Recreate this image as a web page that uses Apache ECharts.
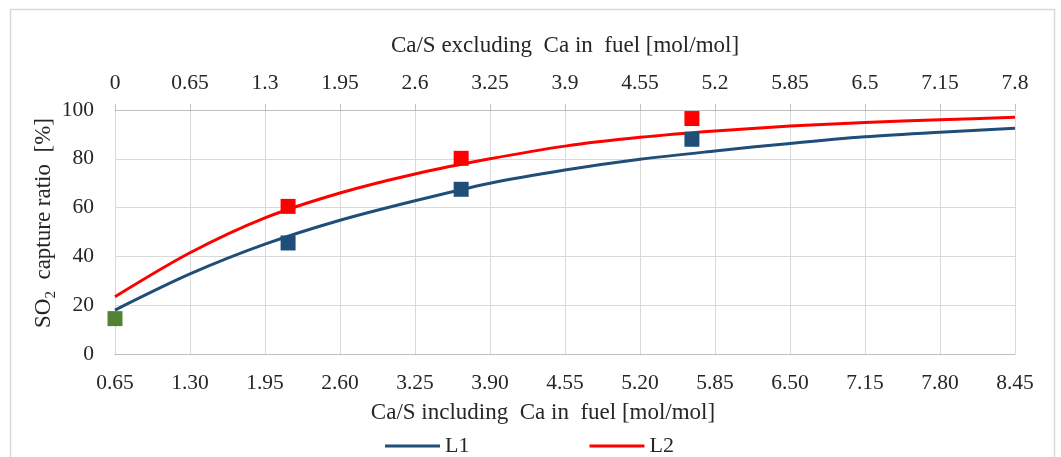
<!DOCTYPE html>
<html>
<head>
<meta charset="utf-8">
<script src="https://cdn.jsdelivr.net/npm/echarts@6/dist/echarts.min.js"></script>
<style>
html,body{margin:0;padding:0;background:#fff;}
#chart{width:1061px;height:457px;}
</style>
</head>
<body>
<div id="chart"></div>
<script>
// Bottom axis: Ca/S including Ca in fuel; top axis: Ca/S excluding Ca in fuel
const xCurve = [0.65, 1.30, 1.95, 2.60, 3.25, 3.90, 4.55, 5.20, 5.85, 6.50, 7.15, 7.80, 8.45];
const l1Curve = [18.0, 32.8, 45.0, 54.8, 62.8, 70.0, 75.4, 79.8, 83.2, 86.3, 89.0, 90.9, 92.5];
const l2Curve = [23.5, 41.5, 55.8, 66.0, 73.8, 80.0, 85.2, 88.8, 91.4, 93.4, 94.9, 96.0, 97.0];
const markerX = [2.15, 3.65, 5.65];
const l1Markers = [45.5, 67.5, 88.0];
const l2Markers = [60.5, 80.2, 96.5];
const baseX = [0.65];
const baseY = [14.5];
const seriesNames = ['L1', 'L2'];
const bottomTitle = 'Ca/S including  Ca in  fuel [mol/mol]';
const topTitle = 'Ca/S excluding  Ca in  fuel [mol/mol]';

const FONT = 'Liberation Serif';
const TXT = '#262626';
const GRID = '#d9d9d9';
const BLUE = '#1f4e79';
const RED = '#ff0000';
const GREEN = '#548235';
const TICK_FS = 21.5;
const TITLE_FS = 23;

const zip = (xs, ys) => xs.map((x, i) => [x, ys[i]]);

const chart = echarts.init(document.getElementById('chart'), null, {renderer: 'canvas'});
chart.setOption({
  backgroundColor: '#ffffff',
  animation: false,
  graphic: [{
    type: 'rect', left: 8, top: 7, silent: true,
    shape: {width: 1044, height: 470},
    style: {fill: 'none', stroke: '#d9d9d9', lineWidth: 1.5}
  }],
  grid: {left: 115, right: 46, top: 110, bottom: 103},
  legend: {
    data: seriesNames,
    icon: 'rect',
    left: 380, top: 430,
    itemWidth: 55, itemHeight: 3, itemGap: 120,
    textStyle: {fontFamily: FONT, fontSize: 22, color: TXT}
  },
  xAxis: [{
    type: 'value', position: 'bottom',
    min: 0.65, max: 8.45, interval: 0.65,
    name: bottomTitle, nameLocation: 'middle', nameGap: 47, nameMoveOverlap: false,
    nameTextStyle: {fontFamily: FONT, fontSize: TITLE_FS, color: TXT, padding: [0, 44, 0, 0]},
    axisLine: {show: true, lineStyle: {color: '#bfbfbf', width: 1}},
    axisTick: {show: false},
    axisLabel: {fontFamily: FONT, fontSize: TICK_FS, color: TXT, margin: 18, formatter: v => v.toFixed(2)},
    splitLine: {show: true, lineStyle: {color: GRID, width: 1}}
  }, {
    type: 'value', position: 'top',
    min: 0, max: 7.8, interval: 0.65,
    name: topTitle, nameLocation: 'middle', nameGap: 53, nameMoveOverlap: false,
    nameTextStyle: {fontFamily: FONT, fontSize: TITLE_FS, color: TXT},
    axisLine: {show: true, lineStyle: {color: '#bfbfbf', width: 1}},
    axisTick: {show: true, inside: false, length: 6, lineStyle: {color: '#bfbfbf'}},
    axisLabel: {fontFamily: FONT, fontSize: TICK_FS, color: TXT, margin: 16,
      formatter: v => String(Math.round(v * 100) / 100)},
    splitLine: {show: false}
  }],
  yAxis: {
    type: 'value', min: 0, max: 100, interval: 20,
    name: '{a|SO}{s|2}{a|  capture ratio  [%]}',
    nameLocation: 'middle', nameGap: 56, nameRotate: 90, nameMoveOverlap: false,
    nameTextStyle: {
      fontFamily: FONT, color: TXT, padding: [0, 0, 0, 18],
      rich: {
        a: {fontFamily: FONT, fontSize: TITLE_FS, color: TXT, lineHeight: 30, verticalAlign: 'middle'},
        s: {fontFamily: FONT, fontSize: 15, color: TXT, lineHeight: 30, verticalAlign: 'bottom'}
      }
    },
    axisLine: {show: false},
    axisTick: {show: false},
    axisLabel: {fontFamily: FONT, fontSize: TICK_FS, color: TXT, margin: 21},
    splitLine: {show: true, lineStyle: {color: GRID, width: 1}}
  },
  series: [{
    name: 'L1', type: 'line', smooth: 0.3, symbol: 'none',
    data: zip(xCurve, l1Curve),
    lineStyle: {color: BLUE, width: 3}, itemStyle: {color: BLUE}, z: 2
  }, {
    name: 'L2', type: 'line', smooth: 0.3, symbol: 'none',
    data: zip(xCurve, l2Curve),
    lineStyle: {color: RED, width: 3}, itemStyle: {color: RED}, z: 2
  }, {
    name: 'L1 data', type: 'scatter', symbol: 'rect', symbolSize: 15,
    data: zip(markerX, l1Markers), itemStyle: {color: BLUE, opacity: 1}, z: 3
  }, {
    name: 'L2 data', type: 'scatter', symbol: 'rect', symbolSize: 15,
    data: zip(markerX, l2Markers), itemStyle: {color: RED, opacity: 1}, z: 3
  }, {
    name: 'base', type: 'scatter', symbol: 'rect', symbolSize: 15,
    data: zip(baseX, baseY), itemStyle: {color: GREEN, opacity: 1}, z: 3
  }]
});
</script>
</body>
</html>
